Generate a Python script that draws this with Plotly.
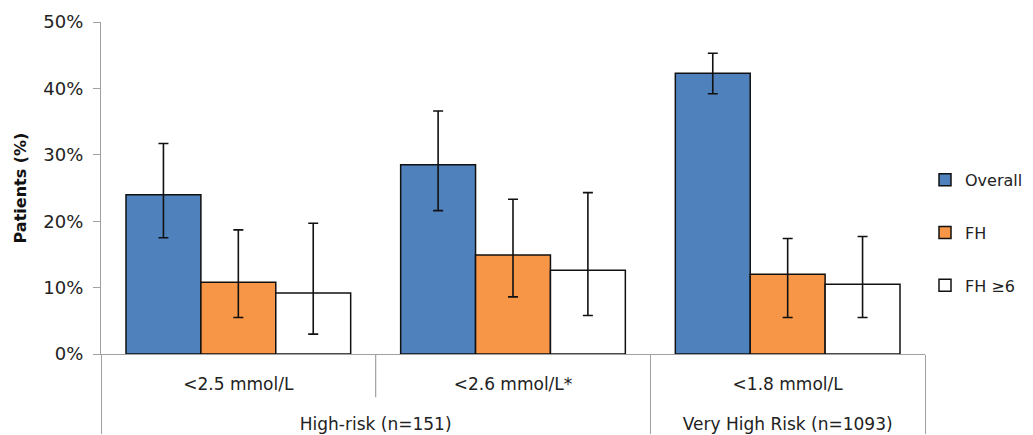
import plotly.graph_objects as go

outer_groups = ["High-risk (n=151)", "High-risk (n=151)", "Very High Risk (n=1093)"]
targets = ["<2.5 mmol/L", "<2.6 mmol/L*", "<1.8 mmol/L"]

series_names = ["Overall", "FH", "FH ≥6"]
overall = [24.0, 28.5, 42.3]
overall_hi = [31.7, 36.6, 45.3]
overall_lo = [17.5, 21.6, 39.2]
fh = [10.8, 14.9, 12.0]
fh_hi = [18.7, 23.3, 17.4]
fh_lo = [5.5, 8.6, 5.5]
fh6 = [9.2, 12.6, 10.5]
fh6_hi = [19.7, 24.3, 17.7]
fh6_lo = [3.0, 5.8, 5.5]

colors = ["#4F81BD", "#F79646", "#FFFFFF"]


def lbl(s):
    return "<span style='font-size:17px'>" + s.replace("<", "&lt;") + "</span>"


# leading line break (in a larger base font) pushes the outer group labels lower
outer_labels = ["<br>" + lbl(g) for g in outer_groups]
inner_labels = [lbl(t) for t in targets]

fig = go.Figure()
for name, vals, hi, lo, col in zip(
    series_names,
    [overall, fh, fh6],
    [overall_hi, fh_hi, fh6_hi],
    [overall_lo, fh_lo, fh6_lo],
    colors,
):
    fig.add_trace(go.Bar(
        name=name,
        x=[outer_labels, inner_labels],
        y=vals,
        legendgroup=name,
        marker=dict(color=col, line=dict(color="#111111", width=1.5)),
        error_y=dict(
            type="data", symmetric=False,
            array=[h - v for h, v in zip(hi, vals)],
            arrayminus=[v - l for v, l in zip(vals, lo)],
            color="#111111", thickness=1.6, width=5,
        ),
    ))

# short divider between the two High-risk sub-categories
fig.add_shape(type="line", xref="x domain", yref="paper",
              x0=1/3, x1=1/3, y0=0, y1=-0.13,
              line=dict(color="#A0A0A0", width=1.2))

fig.update_layout(
    width=1033, height=435,
    margin=dict(l=101, r=108, t=22, b=81, autoexpand=False),
    paper_bgcolor="white", plot_bgcolor="white",
    barmode="group", bargap=0.182, bargroupgap=0,
    font=dict(family="DejaVu Sans", size=15, color="#222222"),
    showlegend=True,
    legend=dict(
        x=1.0, y=0.365, xanchor="left", yanchor="middle",
        font=dict(family="DejaVu Sans", size=16, color="#222222"),
        tracegroupgap=29, traceorder="grouped",
        bgcolor="rgba(0,0,0,0)",
    ),
    xaxis=dict(
        type="multicategory", automargin=False,
        showline=True, linecolor="#A0A0A0", linewidth=1.2,
        showdividers=True, dividercolor="#A0A0A0", dividerwidth=1.2,
        ticks="", ticklabelstandoff=10,
        showgrid=False,
        tickfont=dict(family="DejaVu Sans", size=21, color="#222222"),
    ),
    yaxis=dict(
        range=[0, 50], dtick=10, ticksuffix="%", automargin=False,
        showline=True, linecolor="#A0A0A0", linewidth=1.2,
        ticks="outside", ticklen=7, tickcolor="#A0A0A0", tickwidth=1.2,
        ticklabelstandoff=6,
        showgrid=False, zeroline=False,
        tickfont=dict(family="DejaVu Sans", size=18, color="#222222"),
        title=dict(text="<b>Patients (%)</b>", standoff=12,
                   font=dict(family="DejaVu Sans", size=16, color="#111111")),
    ),
)

fig.write_html("out.html", config={"displayModeBar": False},
               post_script="document.body.style.margin='0';")
